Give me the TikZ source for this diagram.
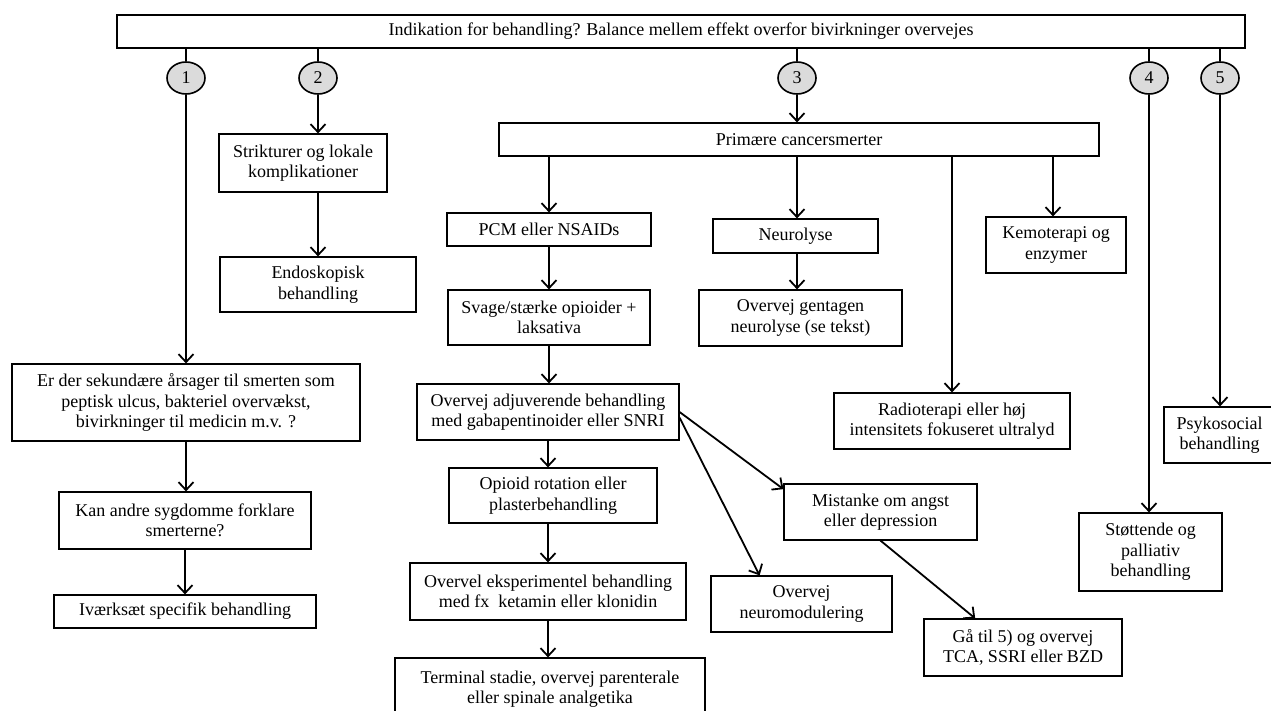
\documentclass[tikz,border=0pt]{standalone}
\usepackage{fontspec}
\setmainfont{Liberation Serif}
\usetikzlibrary{arrows.meta,calc,shapes.geometric}
\begin{document}
\begin{tikzpicture}[x=1pt,y=-1pt,
  box/.style={draw,line width=1.2pt,inner sep=0pt,align=center,
    font=\fontsize{18}{20.5}\selectfont},
  num/.style={draw,line width=1.6pt,ellipse,fill=gray!28,inner sep=0pt,
    minimum width=38,minimum height=32,font=\fontsize{18}{20.5}\selectfont},
  conn/.style={line width=1.8pt},
  arr/.style={line width=1.8pt,-{Straight Barb[length=8pt,width=15pt,line width=1.8pt]}}
]
\useasboundingbox (0,0) rectangle (1271,711);
\node[box,minimum width=1128,minimum height=33] (top) at (681,31.5) {Indikation for behandling? Balance mellem effekt overfor bivirkninger overvejes};
\node[num] (c1) at (186,78) {1};
\node[num] (c2) at (318,78) {2};
\node[num] (c3) at (797,78) {3};
\node[num] (c4) at (1149,78) {4};
\node[num] (c5) at (1220,78) {5};
\node[box,minimum width=168,minimum height=58] (str) at (303,163) {Strikturer og lokale\\komplikationer};
\node[box,minimum width=196,minimum height=55] (endo) at (318,284.5) {Endoskopisk\\behandling};
\node[box,minimum width=600,minimum height=33] (prim) at (799,139.5) {Primære cancersmerter};
\node[box,minimum width=204,minimum height=33] (pcm) at (549,229.5) {PCM eller NSAIDs};
\node[box,minimum width=165,minimum height=34] (neuro) at (795.5,236) {Neurolyse};
\node[box,minimum width=140,minimum height=56] (kemo) at (1056,245) {Kemoterapi og\\enzymer};
\node[box,minimum width=236,minimum height=56] (radio) at (952,421) {Radioterapi eller høj\\intensitets fokuseret ultralyd};
\node[box,minimum width=203,minimum height=56] (gentag) at (800.5,318) {Overvej gentagen\\neurolyse (se tekst)};
\node[box,minimum width=202,minimum height=55] (svage) at (549,317.5) {Svage/stærke opioider +\\laksativa};
\node[box,minimum width=262,minimum height=56] (adj) at (548,412) {Overvej adjuverende behandling\\med gabapentinoider eller SNRI};
\node[box,minimum width=208,minimum height=55] (opioid) at (553,495.5) {Opioid rotation eller\\plasterbehandling};
\node[box,minimum width=276,minimum height=57] (eksp) at (548,591.5) {Overvel eksperimentel behandling\\med fx\ \ ketamin eller klonidin};
\node[box,minimum width=310,minimum height=62] (term) at (550,689) {Terminal stadie, overvej parenterale\\eller spinale analgetika};
\node[box,minimum width=193,minimum height=56] (mist) at (880.5,512) {Mistanke om angst\\eller depression};
\node[box,minimum width=181,minimum height=56] (neuromod) at (801.5,604) {Overvej\\neuromodulering};
\node[box,minimum width=198,minimum height=57] (gaa) at (1023,647.5) {Gå til 5) og overvej\\TCA, SSRI eller BZD};
\node[box,minimum width=143,minimum height=78] (stot) at (1150.5,552) {Støttende og\\palliativ\\behandling};
\node[box,minimum width=111,minimum height=56] (psyk) at (1219.5,435) {Psykosocial\\behandling};
\node[box,minimum width=348,minimum height=77] (er) at (186,402.5) {Er der sekundære årsager til smerten som\\peptisk ulcus, bakteriel overvækst,\\bivirkninger til medicin m.v. ?};
\node[box,minimum width=252,minimum height=57] (kan) at (185,520.5) {Kan andre sygdomme forklare\\smerterne?};
\node[box,minimum width=262,minimum height=33] (ivaerk) at (185,611.5) {Iværksæt specifik behandling};
% top to circles
\foreach \c in {c1,c2,c3,c4,c5} \draw[conn] (\c.north |- top.south) -- (\c.north);
% circle branches
\draw[arr] (c1.south) -- (c1.south |- er.north);
\draw[arr] (c2.south) -- (c2.south |- str.north);
\draw[arr] (c3.south) -- (c3.south |- prim.north);
\draw[arr] (c4.south) -- (c4.south |- stot.north);
\draw[arr] (c5.south) -- (c5.south |- psyk.north);
% branch 1
\draw[arr] (er.south) -- (er.south |- kan.north);
\draw[arr] (kan.south) -- (kan.south |- ivaerk.north);
% branch 2
\draw[arr] (endo.north |- str.south) -- (endo.north);
% branch 3
\draw[arr] (pcm.north |- prim.south) -- (pcm.north);
\draw[arr] (c3.south |- prim.south) -- (c3.south |- neuro.north);
\draw[arr] (radio.north |- prim.south) -- (radio.north);
\draw[arr] ([xshift=-3pt]kemo.north |- prim.south) -- ([xshift=-3pt]kemo.north);
\draw[arr] (c3.south |- neuro.south) -- (c3.south |- gentag.north);
\draw[arr] (pcm.south) -- (svage.north);
\draw[arr] (svage.south) -- (svage.south |- adj.north);
\draw[arr] (adj.south) -- (adj.south |- opioid.north);
\draw[arr] (eksp.north |- opioid.south) -- (eksp.north);
\draw[arr] (eksp.south) -- (eksp.south |- term.north);
\draw[arr] (adj.east) -- ($(mist.north west)!0.1!(mist.south west)$);
\draw[arr] ($(adj.north east)!0.6!(adj.south east)$) -- ($(neuromod.north west)!0.27!(neuromod.north east)$);
\draw[arr] (mist.south) -- ($(gaa.north west)!0.26!(gaa.north east)$);
\end{tikzpicture}
\end{document}
